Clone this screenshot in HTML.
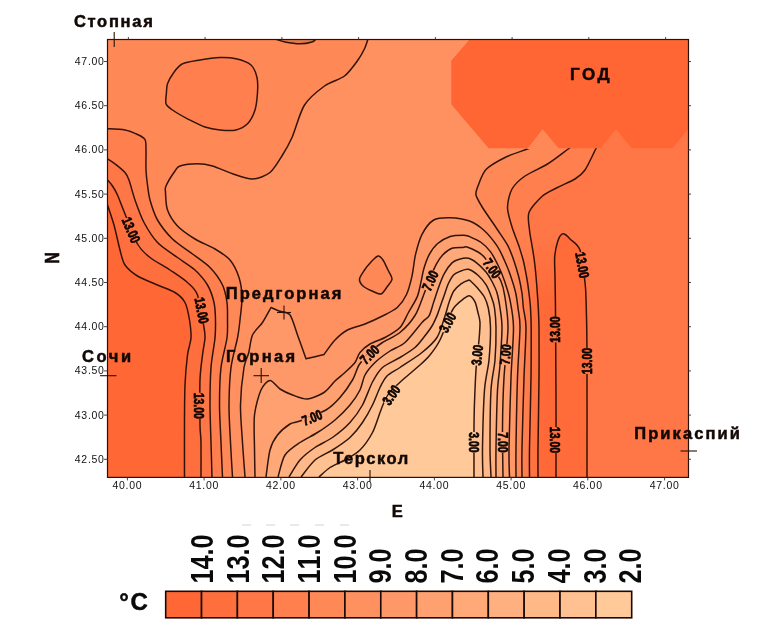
<!DOCTYPE html>
<html><head><meta charset="utf-8"><style>
html,body{margin:0;padding:0;background:#fff;}
body{width:768px;height:634px;overflow:hidden;font-family:"Liberation Sans",sans-serif;}
svg{display:block;will-change:transform;opacity:0.999}
.cl{font:bold 14px "Liberation Sans",sans-serif;fill:#0a0402;stroke:#0a0402;stroke-width:0.7px;font-kerning:none}
.tk{font:10.5px "Liberation Sans",sans-serif;fill:#111;letter-spacing:0.7px}
.lg{font:bold 31px "Liberation Sans",sans-serif;fill:#0a0a0a;font-kerning:none}
.st{font:bold 16.5px "Liberation Sans",sans-serif;fill:#120805;letter-spacing:1.6px;stroke:#120805;stroke-width:0.5px}
</style></head><body>
<svg width="768" height="634" viewBox="0 0 768 634">
<defs><linearGradient id="gH" x1="0" x2="1" y1="0" y2="0"><stop offset="0" stop-color="rgb(255,70,20)" stop-opacity="0"/><stop offset="0.55" stop-color="rgb(255,70,20)" stop-opacity="0.26"/><stop offset="1" stop-color="rgb(255,70,20)" stop-opacity="0.28"/></linearGradient>
<linearGradient id="gV" x1="0" x2="0" y1="0" y2="1"><stop offset="0" stop-color="#000"/><stop offset="0.25" stop-color="#fff"/><stop offset="1" stop-color="#fff"/></linearGradient>
<mask id="mV" maskUnits="userSpaceOnUse" x="500" y="236" width="70" height="254"><rect x="500" y="236" width="70" height="254" fill="url(#gV)"/></mask>
<clipPath id="cp"><rect x="107.5" y="39.5" width="581.0" height="437.9"/></clipPath></defs>
<rect width="768" height="634" fill="#fff"/>
<g clip-path="url(#cp)">
<rect x="107.5" y="39.5" width="581.0" height="437.9" fill="rgb(255,103,53)"/>
<path d="M107.5,205.0C108.4,207.8 112.2,218.7 114.0,225.0C115.8,231.3 118.5,244.4 120.0,250.0C121.5,255.6 122.5,261.4 125.0,265.0C127.5,268.6 132.9,273.2 137.5,276.0C142.1,278.8 152.2,282.7 157.5,285.0C162.8,287.3 171.2,290.1 175.0,292.5C178.8,294.9 183.0,298.6 185.0,302.5C187.0,306.4 188.7,315.0 189.5,320.0C190.3,325.0 191.3,333.1 191.0,338.0C190.7,342.9 188.3,348.4 187.5,355.0C186.7,361.6 185.4,375.9 185.0,385.0C184.6,394.1 184.6,407.1 184.5,420.0C184.4,432.9 184.5,469.0 184.5,477.0L693.5,482.4 L693.5,34.5 L102.5,34.5 Z" fill="rgb(255,111,61)"/>
<path d="M107.5,180.0C108.2,180.8 111.1,183.9 112.5,186.0C113.9,188.1 115.8,191.1 117.5,195.0C119.2,198.9 122.2,207.1 125.0,214.0C127.8,220.9 134.0,237.9 137.5,244.0C141.0,250.1 145.4,253.9 150.0,257.5C154.6,261.1 164.8,266.5 170.0,270.0C175.2,273.5 183.7,279.0 187.5,282.5C191.3,286.0 195.2,288.7 197.5,295.0C199.8,301.3 202.9,321.5 204.0,327.5C205.1,333.5 205.2,334.1 205.0,338.0C204.8,341.9 203.2,349.1 202.5,355.0C201.8,360.9 200.3,370.2 200.0,380.0C199.7,389.8 199.9,416.2 200.0,425.0C200.1,433.8 200.9,435.2 201.0,442.5C201.1,449.8 201.0,472.2 201.0,477.0L693.5,482.4 L693.5,34.5 L102.5,34.5 Z" fill="rgb(255,119,70)"/>
<path d="M107.5,158.8C108.5,159.4 112.5,161.8 115.0,163.8C117.5,165.7 123.0,170.2 125.0,172.5C127.0,174.8 127.6,176.2 129.0,180.0C130.4,183.8 132.9,194.1 135.0,200.0C137.1,205.9 140.8,216.6 144.0,222.5C147.2,228.4 152.8,237.6 157.5,242.5C162.2,247.4 172.2,253.7 177.5,257.5C182.8,261.4 190.8,266.1 195.0,270.0C199.2,273.9 204.8,280.4 207.5,285.0C210.2,289.6 212.9,297.6 214.0,302.5C215.1,307.4 215.4,315.0 215.5,320.0C215.6,325.0 215.6,331.4 215.0,338.0C214.4,344.6 211.7,358.1 211.0,367.5C210.3,376.9 210.0,394.5 210.0,405.0C210.0,415.5 210.7,432.4 211.0,442.5C211.3,452.6 211.9,472.2 212.0,477.0L693.5,482.4 L693.5,34.5 L102.5,34.5 Z" fill="rgb(255,128,78)"/>
<path d="M107.5,128.8C110.0,128.9 120.8,129.2 125.0,130.0C129.2,130.8 134.7,133.2 137.5,134.5C140.3,135.8 143.8,137.3 145.0,139.5C146.2,141.7 145.9,145.7 146.0,150.0C146.1,154.3 145.8,165.1 146.0,170.0C146.2,174.9 146.9,180.8 147.5,185.0C148.1,189.2 148.6,195.1 150.0,200.0C151.4,204.9 154.3,214.5 157.5,220.0C160.7,225.5 167.6,234.2 172.5,239.0C177.4,243.8 187.2,250.0 192.5,254.0C197.8,258.0 205.8,263.2 210.0,267.5C214.2,271.8 220.1,280.1 222.5,285.0C224.9,289.9 226.3,297.6 227.0,302.5C227.7,307.4 227.5,315.0 227.5,320.0C227.5,325.0 227.9,331.4 227.0,338.0C226.1,344.6 222.1,358.1 221.0,367.5C219.9,376.9 219.5,394.5 219.5,405.0C219.5,415.5 220.6,432.4 221.0,442.5C221.4,452.6 222.3,472.2 222.5,477.0L693.5,482.4 L693.5,34.5 L102.5,34.5 Z" fill="rgb(255,136,87)"/>
<path d="M368.0,39.0C367.5,40.4 365.9,45.8 364.5,48.8C363.1,51.7 360.8,56.2 358.0,60.0C355.2,63.8 349.2,72.4 344.5,76.0C339.8,79.6 330.1,81.9 324.5,86.0C318.9,90.1 309.1,97.8 304.5,105.0C299.9,112.2 295.1,130.5 292.0,137.5C288.9,144.5 285.6,150.1 282.5,155.0C279.4,159.9 274.2,169.1 270.0,172.5C265.8,175.9 257.8,178.8 252.5,179.0C247.2,179.2 238.1,175.6 232.5,173.8C226.9,171.9 217.4,167.4 212.5,166.0C207.6,164.6 202.1,163.8 197.5,163.8C192.9,163.8 183.2,165.0 180.0,166.0C176.8,167.0 177.0,168.2 175.0,171.0C173.0,173.8 167.3,183.0 166.0,186.0C164.7,189.0 165.3,189.1 165.5,192.5C165.7,195.9 165.8,205.3 167.5,210.0C169.2,214.7 173.7,221.9 177.5,226.0C181.3,230.1 189.8,235.8 195.0,239.0C200.2,242.2 210.1,246.1 215.0,249.0C219.9,251.9 226.6,256.0 230.0,260.0C233.4,264.0 237.3,272.2 239.0,277.5C240.7,282.8 241.9,291.6 242.0,297.5C242.1,303.4 240.6,314.3 240.0,320.0C239.4,325.7 238.8,331.4 237.5,338.0C236.2,344.6 232.2,358.1 231.0,367.5C229.8,376.9 229.1,394.5 229.0,405.0C228.9,415.5 230.0,432.4 230.5,442.5C231.0,452.6 232.2,472.2 232.5,477.0L693.5,482.4 L693.5,34.5 Z" fill="rgb(255,144,95)"/>
<path d="M182.5,63.8C186.2,62.0 194.8,60.9 200.0,60.0C205.2,59.1 215.0,57.7 220.0,57.5C225.0,57.3 231.7,57.7 236.0,58.8C240.3,59.8 248.1,62.4 251.0,65.0C253.9,67.6 256.1,73.7 257.0,77.5C257.9,81.3 257.8,88.0 257.5,92.5C257.2,97.0 256.4,105.6 255.0,110.0C253.6,114.4 250.2,121.0 247.5,123.8C244.8,126.5 239.8,129.1 236.0,130.0C232.2,130.9 224.3,130.4 220.0,130.0C215.7,129.6 209.6,128.6 205.0,127.0C200.4,125.4 192.1,121.1 187.5,118.8C182.9,116.4 175.5,112.1 172.5,110.0C169.5,107.9 166.8,106.3 166.0,103.8C165.2,101.2 166.3,94.8 166.5,92.0C166.7,89.2 166.5,86.5 167.5,83.8C168.5,81.0 171.7,75.3 173.8,72.5C175.8,69.7 178.8,65.5 182.5,63.8Z" fill="rgb(255,128,78)"/>
<path d="M275.0,39.0C276.4,39.4 281.5,41.3 285.0,42.0C288.5,42.7 296.2,43.8 300.0,43.8C303.8,43.8 309.8,42.7 312.0,42.0C314.2,41.3 315.4,39.4 316.0,39.0Z" fill="rgb(228,122,72)"/>
<path d="M378.0,256.0C379.7,255.7 381.6,258.0 383.0,260.0C384.4,262.0 386.7,267.3 388.0,270.0C389.3,272.7 392.1,276.6 392.0,279.0C391.9,281.4 388.5,284.9 387.0,287.0C385.5,289.1 383.1,293.4 381.0,294.0C378.9,294.6 374.5,292.1 372.0,291.0C369.5,289.9 364.8,287.7 363.0,286.0C361.2,284.3 359.3,281.2 359.5,279.0C359.7,276.8 362.9,272.4 364.5,270.0C366.1,267.6 369.1,264.0 371.0,262.0C372.9,260.0 376.3,256.3 378.0,256.0Z" fill="rgb(255,136,87)"/>
<path d="M245.0,477.0C244.7,472.2 243.1,452.6 242.5,442.5C241.9,432.4 240.3,415.5 240.5,405.0C240.7,394.5 242.8,374.9 244.0,367.5C245.2,360.1 247.6,357.1 248.8,352.5C249.9,347.9 250.6,339.2 252.5,335.0C254.4,330.8 259.9,326.4 262.5,322.5C265.1,318.6 269.8,309.6 271.0,307.5C272.1,308.0 276.3,309.9 279.0,311.0C281.7,312.1 287.4,311.6 290.0,315.0C292.6,318.4 295.3,328.9 297.5,335.0C299.7,341.1 304.8,355.4 306.0,358.8C308.5,358.2 321.5,355.1 324.0,354.5C325.5,352.5 331.7,343.4 335.0,340.0C338.3,336.6 343.3,332.2 347.5,330.0C351.7,327.8 360.1,326.0 365.0,324.0C369.9,322.0 378.0,318.3 382.5,316.0C387.0,313.7 394.0,310.5 397.3,307.5C400.6,304.5 404.4,299.1 406.4,294.8C408.4,290.5 410.6,282.2 411.9,276.6C413.2,271.0 414.1,260.6 415.5,254.7C416.9,248.8 419.4,239.5 421.9,234.6C424.4,229.7 429.7,222.4 433.7,220.0C437.7,217.6 445.2,217.6 450.2,217.7C455.2,217.8 464.8,219.3 469.5,221.0C474.2,222.7 479.8,226.6 483.6,230.0C487.4,233.4 493.9,241.3 496.9,245.6C499.9,249.9 502.7,256.6 504.7,261.0C506.7,265.4 509.5,272.6 511.0,277.0C512.5,281.4 514.6,288.2 515.6,292.5C516.6,296.8 517.4,303.1 518.0,308.0C518.6,312.9 520.1,317.8 520.0,327.5C519.9,337.2 518.1,360.6 517.5,377.5C516.9,394.4 516.2,434.1 516.0,448.0C515.8,461.9 516.0,472.9 516.0,477.0Z" fill="rgb(255,152,104)"/>
<path d="M255.0,477.0C254.9,472.9 254.6,456.7 254.5,448.0C254.4,439.3 253.6,423.1 254.5,415.0C255.4,406.9 258.8,394.8 261.0,390.0C263.2,385.2 267.3,380.6 270.0,380.5C272.7,380.4 276.9,387.0 280.0,389.0C283.1,391.0 288.6,393.6 292.5,395.0C296.4,396.4 303.1,399.4 307.5,399.0C311.9,398.6 320.1,395.0 324.0,392.5C327.9,390.0 332.1,383.8 335.0,381.0C337.9,378.2 342.2,375.1 345.0,372.5C347.8,369.9 352.9,365.3 355.0,362.5C357.1,359.7 357.9,355.1 360.0,352.5C362.1,349.9 366.5,346.1 370.0,344.0C373.5,341.9 380.8,339.8 385.0,337.5C389.2,335.2 396.8,330.9 400.0,327.5C403.2,324.1 405.8,317.3 408.2,313.0C410.6,308.7 415.5,300.9 417.3,296.6C419.1,292.3 420.1,285.8 421.0,282.0C421.9,278.2 422.6,273.1 423.7,269.3C424.8,265.5 427.3,258.3 429.2,254.7C431.1,251.1 434.5,246.2 437.4,243.7C440.3,241.2 446.6,237.7 450.2,236.5C453.8,235.3 460.4,235.2 463.0,235.2C465.6,235.2 466.2,235.2 468.8,236.2C471.3,237.3 478.2,240.3 481.2,242.5C484.3,244.7 488.2,248.6 490.6,251.9C493.0,255.2 496.4,261.9 498.4,266.0C500.4,270.1 503.1,276.7 504.7,281.5C506.3,286.3 508.8,293.6 510.0,300.0C511.2,306.4 513.4,316.6 513.5,327.5C513.6,338.4 511.6,360.6 511.0,377.5C510.4,394.4 509.2,434.1 509.0,448.0C508.8,461.9 509.4,472.9 509.5,477.0Z" fill="rgb(255,160,112)"/>
<path d="M266.0,477.0C266.6,473.2 268.4,455.9 270.0,450.0C271.6,444.1 274.7,438.6 277.5,435.0C280.3,431.4 286.9,426.0 290.0,424.0C293.1,422.0 295.0,423.0 300.0,421.0C305.0,419.0 320.4,413.3 326.0,410.0C331.6,406.7 336.3,401.7 340.0,397.5C343.7,393.3 349.8,384.6 352.5,380.0C355.2,375.4 356.6,368.9 359.0,365.0C361.4,361.1 366.7,355.1 370.0,352.0C373.3,348.9 378.3,345.2 382.5,342.5C386.7,339.8 395.4,336.3 400.0,332.5C404.6,328.7 411.6,320.9 415.0,315.5C418.4,310.1 421.9,299.2 424.0,294.0C426.1,288.8 428.2,282.2 430.0,278.0C431.8,273.8 434.7,267.1 436.5,263.8C438.3,260.5 440.7,256.9 442.9,254.7C445.1,252.5 449.2,249.3 452.0,248.3C454.8,247.3 460.9,247.6 463.0,247.4C465.1,247.2 464.9,246.4 467.0,247.0C469.1,247.6 475.6,250.6 478.0,252.0C480.4,253.4 482.3,254.9 484.4,257.3C486.5,259.7 490.7,265.7 493.0,269.0C495.3,272.3 499.2,277.1 500.8,280.8C502.4,284.5 503.7,289.1 504.7,295.6C505.7,302.1 508.1,316.0 508.0,327.5C507.9,339.0 504.8,363.5 504.0,377.5C503.2,391.5 502.6,413.6 502.5,427.5C502.4,441.4 502.9,470.1 503.0,477.0Z" fill="rgb(255,168,120)"/>
<path d="M278.0,477.0C279.0,473.9 281.9,459.8 285.0,455.0C288.1,450.2 295.4,445.6 300.0,442.5C304.6,439.4 312.6,435.6 317.5,432.5C322.4,429.4 330.4,423.9 335.0,420.0C339.6,416.1 346.5,409.2 350.0,405.0C353.5,400.8 357.9,394.2 360.0,390.0C362.1,385.8 362.9,378.9 365.0,375.0C367.1,371.1 371.5,365.9 375.0,362.5C378.5,359.1 385.8,353.8 390.0,351.0C394.2,348.2 400.5,346.5 405.0,342.5C409.5,338.5 418.6,326.3 422.0,322.5C425.4,318.7 427.6,318.5 429.2,315.6C430.8,312.7 432.3,306.2 433.7,302.0C435.1,297.8 437.7,289.8 439.2,285.7C440.7,281.6 442.9,276.1 444.7,272.9C446.5,269.7 450.0,264.8 452.0,262.9C454.0,261.0 457.0,259.8 459.3,259.2C461.6,258.6 466.0,257.8 468.4,258.3C470.8,258.8 474.1,260.9 476.6,262.8C479.1,264.7 483.8,269.4 486.0,272.0C488.2,274.6 490.5,278.6 492.0,281.5C493.5,284.4 495.8,288.8 496.9,292.5C498.0,296.2 499.3,303.1 500.0,308.0C500.7,312.9 502.0,319.5 502.0,327.5C502.0,335.5 500.6,356.2 500.0,365.0C499.4,373.8 498.1,378.4 497.5,390.0C496.9,401.6 496.2,435.8 496.0,448.0C495.8,460.2 496.0,472.9 496.0,477.0Z" fill="rgb(255,176,129)"/>
<path d="M289.0,477.0C290.5,474.6 296.4,464.1 300.0,460.0C303.6,455.9 310.4,450.6 315.0,447.5C319.6,444.4 327.6,441.0 332.5,437.5C337.4,434.0 345.8,427.1 350.0,422.5C354.2,417.9 359.4,410.7 362.5,405.0C365.6,399.3 369.7,387.2 372.5,382.0C375.3,376.8 378.6,370.9 382.5,367.5C386.4,364.1 395.4,360.3 400.0,357.5C404.6,354.7 411.6,350.4 415.0,347.5C418.4,344.6 421.6,340.0 424.0,337.0C426.4,334.0 430.2,329.0 432.0,326.0C433.8,323.0 436.0,317.9 437.0,315.6C438.0,313.3 438.2,312.1 439.2,309.4C440.2,306.7 442.5,300.2 443.8,296.6C445.1,293.0 446.9,286.9 448.3,283.8C449.7,280.7 452.0,276.5 453.8,274.7C455.6,272.9 459.0,271.8 461.0,271.0C463.0,270.2 466.0,268.7 468.4,269.3C470.8,269.9 475.5,273.1 478.0,275.3C480.5,277.5 484.1,281.7 486.0,284.7C487.9,287.7 490.2,293.7 491.4,297.0C492.6,300.3 493.9,303.7 494.5,308.0C495.1,312.3 495.9,320.2 496.0,327.5C496.1,334.8 495.7,351.2 495.0,360.0C494.3,368.8 491.7,377.7 491.0,390.0C490.3,402.3 490.0,435.8 490.0,448.0C490.0,460.2 490.9,472.9 491.0,477.0Z" fill="rgb(255,185,137)"/>
<path d="M301.0,477.0C303.0,474.6 310.6,463.8 315.0,460.0C319.4,456.2 327.6,453.1 332.5,450.0C337.4,446.9 345.8,441.4 350.0,437.5C354.2,433.6 359.4,427.1 362.5,422.5C365.6,417.9 370.1,409.9 372.5,405.0C374.9,400.1 378.0,391.6 380.0,387.5C382.0,383.4 384.2,378.8 387.0,376.0C389.8,373.2 395.1,370.8 400.0,367.5C404.9,364.2 416.8,356.7 422.0,352.5C427.2,348.3 433.8,342.5 437.0,337.5C440.2,332.5 443.0,322.0 444.7,317.0C446.4,312.0 447.9,305.6 449.2,302.0C450.5,298.4 452.1,293.5 453.8,291.0C455.5,288.5 459.0,285.3 461.0,283.8C463.0,282.3 467.1,280.6 468.4,280.2C469.7,279.8 469.0,279.6 470.3,280.8C471.6,282.0 476.0,286.3 478.0,288.6C480.0,290.9 483.0,294.3 484.4,297.0C485.8,299.7 487.4,303.7 488.3,308.0C489.2,312.3 490.4,320.2 490.5,327.5C490.6,334.8 489.8,351.2 489.0,360.0C488.2,368.8 485.4,377.7 484.5,390.0C483.6,402.3 482.7,435.8 482.5,448.0C482.3,460.2 482.9,472.9 483.0,477.0Z" fill="rgb(255,193,146)"/>
<path d="M319.0,477.0C320.5,475.7 326.4,469.9 330.0,467.5C333.6,465.1 340.8,462.4 345.0,460.0C349.2,457.6 356.1,453.9 360.0,450.0C363.9,446.1 369.7,437.8 372.5,432.5C375.3,427.2 378.4,416.7 380.0,412.5C381.6,408.3 382.6,405.4 384.0,402.5C385.4,399.6 387.4,395.1 390.0,392.0C392.6,388.9 398.3,383.8 402.5,380.0C406.7,376.2 416.1,368.5 420.0,365.0C423.9,361.5 427.2,358.5 430.0,355.0C432.8,351.5 437.1,345.9 440.0,340.0C442.9,334.1 448.8,317.8 451.0,313.0C453.2,308.2 453.9,307.6 455.6,305.7C457.3,303.8 461.0,300.7 462.9,299.3C464.8,297.9 467.6,295.3 469.3,295.7C471.0,296.1 473.8,299.5 475.0,301.9C476.2,304.3 477.3,309.9 478.0,312.8C478.7,315.7 479.9,318.7 480.0,322.5C480.1,326.3 479.6,333.4 479.0,340.0C478.4,346.6 476.6,361.2 476.0,370.0C475.4,378.8 474.8,394.4 474.5,402.5C474.2,410.6 474.1,417.1 474.0,427.5C473.9,437.9 474.0,470.1 474.0,477.0Z" fill="rgb(255,201,154)"/>
<path d="M545.0,142.4C542.5,143.3 533.1,146.9 527.5,149.0C521.9,151.1 510.8,154.6 505.0,157.5C499.2,160.4 489.8,165.5 486.0,169.5C482.2,173.5 479.4,182.4 478.0,186.0C476.6,189.6 475.4,192.0 476.0,195.0C476.6,198.0 479.6,202.7 482.5,207.5C485.4,212.3 493.5,223.7 497.0,229.0C500.5,234.3 505.4,241.1 507.8,245.6C510.2,250.1 512.5,256.6 514.0,261.0C515.5,265.4 517.6,272.6 518.8,277.0C519.9,281.4 521.2,288.2 521.9,292.5C522.6,296.8 522.8,303.1 523.4,308.0C524.0,312.9 525.9,317.8 526.0,327.5C526.1,337.2 524.6,360.6 524.0,377.5C523.4,394.4 522.3,434.1 522.0,448.0C521.7,461.9 522.0,472.9 522.0,477.0L693.5,482.4 L693.5,34.5 L545.0,34.5 Z" fill="rgb(255,136,87)"/>
<path d="M580.0,140.4C578.2,141.7 572.0,146.2 567.5,149.5C563.0,152.8 553.5,160.3 547.5,164.0C541.5,167.7 530.0,172.5 525.0,176.0C520.0,179.5 514.5,184.6 512.0,189.0C509.6,193.4 507.5,202.2 507.5,207.5C507.5,212.8 510.4,221.7 512.0,227.0C513.6,232.3 517.2,240.8 518.8,245.6C520.3,250.4 522.3,256.6 523.4,261.0C524.5,265.4 525.8,272.6 526.6,277.0C527.4,281.4 528.4,288.2 528.9,292.5C529.4,296.8 530.2,302.9 530.5,308.0C530.8,313.1 531.2,319.0 531.2,328.8C531.3,338.5 531.2,360.8 531.0,377.5C530.8,394.2 529.7,434.1 529.5,448.0C529.3,461.9 529.5,472.9 529.5,477.0L693.5,482.4 L693.5,34.5 L580.0,34.5 Z" fill="rgb(255,128,78)"/>
<path d="M600.4,140.0C599.7,141.3 597.7,145.3 595.5,149.5C593.3,153.7 587.9,165.9 585.0,170.0C582.1,174.1 578.9,176.6 575.0,179.0C571.1,181.4 562.0,185.1 557.5,187.5C553.0,189.9 546.5,192.5 542.5,196.0C538.5,199.5 530.8,207.7 529.0,212.5C527.2,217.3 529.1,225.4 529.5,230.0C529.9,234.6 531.3,241.3 532.0,245.6C532.7,249.9 533.7,255.5 534.4,261.0C535.1,266.5 536.2,278.1 536.7,284.7C537.2,291.3 538.0,301.8 538.3,308.0C538.6,314.2 538.9,319.0 539.0,328.8C539.1,338.5 539.1,360.8 539.0,377.5C538.9,394.2 538.1,434.1 538.0,448.0C537.9,461.9 538.0,472.9 538.0,477.0L693.5,482.4 L693.5,34.5 L600.4,34.5 Z" fill="rgb(255,119,70)"/>
<path d="M556.0,477.0C556.0,466.2 556.1,423.0 556.0,400.0C555.9,377.0 555.6,330.0 555.5,312.8C555.4,295.6 555.1,284.9 555.0,277.0C554.9,269.1 554.3,261.5 554.7,256.5C555.1,251.5 556.8,244.2 557.8,241.0C558.8,237.8 560.9,234.8 562.0,234.0C563.1,233.2 564.9,234.3 566.0,235.0C567.1,235.7 568.0,236.9 570.0,239.0C572.0,241.1 577.9,243.9 580.0,250.0C582.1,256.1 584.2,275.8 585.0,282.5C585.8,289.2 585.7,288.6 586.0,298.0C586.3,307.4 586.9,324.9 587.0,350.0C587.1,375.1 587.0,459.2 587.0,477.0Z" fill="rgb(255,107,57)"/>
<g mask="url(#mV)"><rect x="512" y="236" width="43.5" height="254" fill="url(#gH)"/></g>
<g fill="none" stroke="#260e06" stroke-width="1.5" stroke-linejoin="round" stroke-opacity="0.95">
<path d="M107.5,205.0C108.4,207.8 112.2,218.7 114.0,225.0C115.8,231.3 118.5,244.4 120.0,250.0C121.5,255.6 122.5,261.4 125.0,265.0C127.5,268.6 132.9,273.2 137.5,276.0C142.1,278.8 152.2,282.7 157.5,285.0C162.8,287.3 171.2,290.1 175.0,292.5C178.8,294.9 183.0,298.6 185.0,302.5C187.0,306.4 188.7,315.0 189.5,320.0C190.3,325.0 191.3,333.1 191.0,338.0C190.7,342.9 188.3,348.4 187.5,355.0C186.7,361.6 185.4,375.9 185.0,385.0C184.6,394.1 184.6,407.1 184.5,420.0C184.4,432.9 184.5,469.0 184.5,477.0"/>
<path d="M107.5,180.0C108.2,180.8 111.1,183.9 112.5,186.0C113.9,188.1 115.8,191.1 117.5,195.0C119.2,198.9 122.2,207.1 125.0,214.0C127.8,220.9 134.0,237.9 137.5,244.0C141.0,250.1 145.4,253.9 150.0,257.5C154.6,261.1 164.8,266.5 170.0,270.0C175.2,273.5 183.7,279.0 187.5,282.5C191.3,286.0 195.2,288.7 197.5,295.0C199.8,301.3 202.9,321.5 204.0,327.5C205.1,333.5 205.2,334.1 205.0,338.0C204.8,341.9 203.2,349.1 202.5,355.0C201.8,360.9 200.3,370.2 200.0,380.0C199.7,389.8 199.9,416.2 200.0,425.0C200.1,433.8 200.9,435.2 201.0,442.5C201.1,449.8 201.0,472.2 201.0,477.0"/>
<path d="M107.5,158.8C108.5,159.4 112.5,161.8 115.0,163.8C117.5,165.7 123.0,170.2 125.0,172.5C127.0,174.8 127.6,176.2 129.0,180.0C130.4,183.8 132.9,194.1 135.0,200.0C137.1,205.9 140.8,216.6 144.0,222.5C147.2,228.4 152.8,237.6 157.5,242.5C162.2,247.4 172.2,253.7 177.5,257.5C182.8,261.4 190.8,266.1 195.0,270.0C199.2,273.9 204.8,280.4 207.5,285.0C210.2,289.6 212.9,297.6 214.0,302.5C215.1,307.4 215.4,315.0 215.5,320.0C215.6,325.0 215.6,331.4 215.0,338.0C214.4,344.6 211.7,358.1 211.0,367.5C210.3,376.9 210.0,394.5 210.0,405.0C210.0,415.5 210.7,432.4 211.0,442.5C211.3,452.6 211.9,472.2 212.0,477.0"/>
<path d="M107.5,128.8C110.0,128.9 120.8,129.2 125.0,130.0C129.2,130.8 134.7,133.2 137.5,134.5C140.3,135.8 143.8,137.3 145.0,139.5C146.2,141.7 145.9,145.7 146.0,150.0C146.1,154.3 145.8,165.1 146.0,170.0C146.2,174.9 146.9,180.8 147.5,185.0C148.1,189.2 148.6,195.1 150.0,200.0C151.4,204.9 154.3,214.5 157.5,220.0C160.7,225.5 167.6,234.2 172.5,239.0C177.4,243.8 187.2,250.0 192.5,254.0C197.8,258.0 205.8,263.2 210.0,267.5C214.2,271.8 220.1,280.1 222.5,285.0C224.9,289.9 226.3,297.6 227.0,302.5C227.7,307.4 227.5,315.0 227.5,320.0C227.5,325.0 227.9,331.4 227.0,338.0C226.1,344.6 222.1,358.1 221.0,367.5C219.9,376.9 219.5,394.5 219.5,405.0C219.5,415.5 220.6,432.4 221.0,442.5C221.4,452.6 222.3,472.2 222.5,477.0"/>
<path d="M368.0,39.0C367.5,40.4 365.9,45.8 364.5,48.8C363.1,51.7 360.8,56.2 358.0,60.0C355.2,63.8 349.2,72.4 344.5,76.0C339.8,79.6 330.1,81.9 324.5,86.0C318.9,90.1 309.1,97.8 304.5,105.0C299.9,112.2 295.1,130.5 292.0,137.5C288.9,144.5 285.6,150.1 282.5,155.0C279.4,159.9 274.2,169.1 270.0,172.5C265.8,175.9 257.8,178.8 252.5,179.0C247.2,179.2 238.1,175.6 232.5,173.8C226.9,171.9 217.4,167.4 212.5,166.0C207.6,164.6 202.1,163.8 197.5,163.8C192.9,163.8 183.2,165.0 180.0,166.0C176.8,167.0 177.0,168.2 175.0,171.0C173.0,173.8 167.3,183.0 166.0,186.0C164.7,189.0 165.3,189.1 165.5,192.5C165.7,195.9 165.8,205.3 167.5,210.0C169.2,214.7 173.7,221.9 177.5,226.0C181.3,230.1 189.8,235.8 195.0,239.0C200.2,242.2 210.1,246.1 215.0,249.0C219.9,251.9 226.6,256.0 230.0,260.0C233.4,264.0 237.3,272.2 239.0,277.5C240.7,282.8 241.9,291.6 242.0,297.5C242.1,303.4 240.6,314.3 240.0,320.0C239.4,325.7 238.8,331.4 237.5,338.0C236.2,344.6 232.2,358.1 231.0,367.5C229.8,376.9 229.1,394.5 229.0,405.0C228.9,415.5 230.0,432.4 230.5,442.5C231.0,452.6 232.2,472.2 232.5,477.0"/>
<path d="M182.5,63.8C186.2,62.0 194.8,60.9 200.0,60.0C205.2,59.1 215.0,57.7 220.0,57.5C225.0,57.3 231.7,57.7 236.0,58.8C240.3,59.8 248.1,62.4 251.0,65.0C253.9,67.6 256.1,73.7 257.0,77.5C257.9,81.3 257.8,88.0 257.5,92.5C257.2,97.0 256.4,105.6 255.0,110.0C253.6,114.4 250.2,121.0 247.5,123.8C244.8,126.5 239.8,129.1 236.0,130.0C232.2,130.9 224.3,130.4 220.0,130.0C215.7,129.6 209.6,128.6 205.0,127.0C200.4,125.4 192.1,121.1 187.5,118.8C182.9,116.4 175.5,112.1 172.5,110.0C169.5,107.9 166.8,106.3 166.0,103.8C165.2,101.2 166.3,94.8 166.5,92.0C166.7,89.2 166.5,86.5 167.5,83.8C168.5,81.0 171.7,75.3 173.8,72.5C175.8,69.7 178.8,65.5 182.5,63.8Z"/>
<path d="M275.0,39.0C276.4,39.4 281.5,41.3 285.0,42.0C288.5,42.7 296.2,43.8 300.0,43.8C303.8,43.8 309.8,42.7 312.0,42.0C314.2,41.3 315.4,39.4 316.0,39.0"/>
<path d="M378.0,256.0C379.7,255.7 381.6,258.0 383.0,260.0C384.4,262.0 386.7,267.3 388.0,270.0C389.3,272.7 392.1,276.6 392.0,279.0C391.9,281.4 388.5,284.9 387.0,287.0C385.5,289.1 383.1,293.4 381.0,294.0C378.9,294.6 374.5,292.1 372.0,291.0C369.5,289.9 364.8,287.7 363.0,286.0C361.2,284.3 359.3,281.2 359.5,279.0C359.7,276.8 362.9,272.4 364.5,270.0C366.1,267.6 369.1,264.0 371.0,262.0C372.9,260.0 376.3,256.3 378.0,256.0Z"/>
<path d="M245.0,477.0C244.7,472.2 243.1,452.6 242.5,442.5C241.9,432.4 240.3,415.5 240.5,405.0C240.7,394.5 242.8,374.9 244.0,367.5C245.2,360.1 247.6,357.1 248.8,352.5C249.9,347.9 250.6,339.2 252.5,335.0C254.4,330.8 259.9,326.4 262.5,322.5C265.1,318.6 269.8,309.6 271.0,307.5C272.1,308.0 276.3,309.9 279.0,311.0C281.7,312.1 287.4,311.6 290.0,315.0C292.6,318.4 295.3,328.9 297.5,335.0C299.7,341.1 304.8,355.4 306.0,358.8C308.5,358.2 321.5,355.1 324.0,354.5C325.5,352.5 331.7,343.4 335.0,340.0C338.3,336.6 343.3,332.2 347.5,330.0C351.7,327.8 360.1,326.0 365.0,324.0C369.9,322.0 378.0,318.3 382.5,316.0C387.0,313.7 394.0,310.5 397.3,307.5C400.6,304.5 404.4,299.1 406.4,294.8C408.4,290.5 410.6,282.2 411.9,276.6C413.2,271.0 414.1,260.6 415.5,254.7C416.9,248.8 419.4,239.5 421.9,234.6C424.4,229.7 429.7,222.4 433.7,220.0C437.7,217.6 445.2,217.6 450.2,217.7C455.2,217.8 464.8,219.3 469.5,221.0C474.2,222.7 479.8,226.6 483.6,230.0C487.4,233.4 493.9,241.3 496.9,245.6C499.9,249.9 502.7,256.6 504.7,261.0C506.7,265.4 509.5,272.6 511.0,277.0C512.5,281.4 514.6,288.2 515.6,292.5C516.6,296.8 517.4,303.1 518.0,308.0C518.6,312.9 520.1,317.8 520.0,327.5C519.9,337.2 518.1,360.6 517.5,377.5C516.9,394.4 516.2,434.1 516.0,448.0C515.8,461.9 516.0,472.9 516.0,477.0"/>
<path d="M255.0,477.0C254.9,472.9 254.6,456.7 254.5,448.0C254.4,439.3 253.6,423.1 254.5,415.0C255.4,406.9 258.8,394.8 261.0,390.0C263.2,385.2 267.3,380.6 270.0,380.5C272.7,380.4 276.9,387.0 280.0,389.0C283.1,391.0 288.6,393.6 292.5,395.0C296.4,396.4 303.1,399.4 307.5,399.0C311.9,398.6 320.1,395.0 324.0,392.5C327.9,390.0 332.1,383.8 335.0,381.0C337.9,378.2 342.2,375.1 345.0,372.5C347.8,369.9 352.9,365.3 355.0,362.5C357.1,359.7 357.9,355.1 360.0,352.5C362.1,349.9 366.5,346.1 370.0,344.0C373.5,341.9 380.8,339.8 385.0,337.5C389.2,335.2 396.8,330.9 400.0,327.5C403.2,324.1 405.8,317.3 408.2,313.0C410.6,308.7 415.5,300.9 417.3,296.6C419.1,292.3 420.1,285.8 421.0,282.0C421.9,278.2 422.6,273.1 423.7,269.3C424.8,265.5 427.3,258.3 429.2,254.7C431.1,251.1 434.5,246.2 437.4,243.7C440.3,241.2 446.6,237.7 450.2,236.5C453.8,235.3 460.4,235.2 463.0,235.2C465.6,235.2 466.2,235.2 468.8,236.2C471.3,237.3 478.2,240.3 481.2,242.5C484.3,244.7 488.2,248.6 490.6,251.9C493.0,255.2 496.4,261.9 498.4,266.0C500.4,270.1 503.1,276.7 504.7,281.5C506.3,286.3 508.8,293.6 510.0,300.0C511.2,306.4 513.4,316.6 513.5,327.5C513.6,338.4 511.6,360.6 511.0,377.5C510.4,394.4 509.2,434.1 509.0,448.0C508.8,461.9 509.4,472.9 509.5,477.0"/>
<path d="M266.0,477.0C266.6,473.2 268.4,455.9 270.0,450.0C271.6,444.1 274.7,438.6 277.5,435.0C280.3,431.4 286.9,426.0 290.0,424.0C293.1,422.0 295.0,423.0 300.0,421.0C305.0,419.0 320.4,413.3 326.0,410.0C331.6,406.7 336.3,401.7 340.0,397.5C343.7,393.3 349.8,384.6 352.5,380.0C355.2,375.4 356.6,368.9 359.0,365.0C361.4,361.1 366.7,355.1 370.0,352.0C373.3,348.9 378.3,345.2 382.5,342.5C386.7,339.8 395.4,336.3 400.0,332.5C404.6,328.7 411.6,320.9 415.0,315.5C418.4,310.1 421.9,299.2 424.0,294.0C426.1,288.8 428.2,282.2 430.0,278.0C431.8,273.8 434.7,267.1 436.5,263.8C438.3,260.5 440.7,256.9 442.9,254.7C445.1,252.5 449.2,249.3 452.0,248.3C454.8,247.3 460.9,247.6 463.0,247.4C465.1,247.2 464.9,246.4 467.0,247.0C469.1,247.6 475.6,250.6 478.0,252.0C480.4,253.4 482.3,254.9 484.4,257.3C486.5,259.7 490.7,265.7 493.0,269.0C495.3,272.3 499.2,277.1 500.8,280.8C502.4,284.5 503.7,289.1 504.7,295.6C505.7,302.1 508.1,316.0 508.0,327.5C507.9,339.0 504.8,363.5 504.0,377.5C503.2,391.5 502.6,413.6 502.5,427.5C502.4,441.4 502.9,470.1 503.0,477.0"/>
<path d="M278.0,477.0C279.0,473.9 281.9,459.8 285.0,455.0C288.1,450.2 295.4,445.6 300.0,442.5C304.6,439.4 312.6,435.6 317.5,432.5C322.4,429.4 330.4,423.9 335.0,420.0C339.6,416.1 346.5,409.2 350.0,405.0C353.5,400.8 357.9,394.2 360.0,390.0C362.1,385.8 362.9,378.9 365.0,375.0C367.1,371.1 371.5,365.9 375.0,362.5C378.5,359.1 385.8,353.8 390.0,351.0C394.2,348.2 400.5,346.5 405.0,342.5C409.5,338.5 418.6,326.3 422.0,322.5C425.4,318.7 427.6,318.5 429.2,315.6C430.8,312.7 432.3,306.2 433.7,302.0C435.1,297.8 437.7,289.8 439.2,285.7C440.7,281.6 442.9,276.1 444.7,272.9C446.5,269.7 450.0,264.8 452.0,262.9C454.0,261.0 457.0,259.8 459.3,259.2C461.6,258.6 466.0,257.8 468.4,258.3C470.8,258.8 474.1,260.9 476.6,262.8C479.1,264.7 483.8,269.4 486.0,272.0C488.2,274.6 490.5,278.6 492.0,281.5C493.5,284.4 495.8,288.8 496.9,292.5C498.0,296.2 499.3,303.1 500.0,308.0C500.7,312.9 502.0,319.5 502.0,327.5C502.0,335.5 500.6,356.2 500.0,365.0C499.4,373.8 498.1,378.4 497.5,390.0C496.9,401.6 496.2,435.8 496.0,448.0C495.8,460.2 496.0,472.9 496.0,477.0"/>
<path d="M289.0,477.0C290.5,474.6 296.4,464.1 300.0,460.0C303.6,455.9 310.4,450.6 315.0,447.5C319.6,444.4 327.6,441.0 332.5,437.5C337.4,434.0 345.8,427.1 350.0,422.5C354.2,417.9 359.4,410.7 362.5,405.0C365.6,399.3 369.7,387.2 372.5,382.0C375.3,376.8 378.6,370.9 382.5,367.5C386.4,364.1 395.4,360.3 400.0,357.5C404.6,354.7 411.6,350.4 415.0,347.5C418.4,344.6 421.6,340.0 424.0,337.0C426.4,334.0 430.2,329.0 432.0,326.0C433.8,323.0 436.0,317.9 437.0,315.6C438.0,313.3 438.2,312.1 439.2,309.4C440.2,306.7 442.5,300.2 443.8,296.6C445.1,293.0 446.9,286.9 448.3,283.8C449.7,280.7 452.0,276.5 453.8,274.7C455.6,272.9 459.0,271.8 461.0,271.0C463.0,270.2 466.0,268.7 468.4,269.3C470.8,269.9 475.5,273.1 478.0,275.3C480.5,277.5 484.1,281.7 486.0,284.7C487.9,287.7 490.2,293.7 491.4,297.0C492.6,300.3 493.9,303.7 494.5,308.0C495.1,312.3 495.9,320.2 496.0,327.5C496.1,334.8 495.7,351.2 495.0,360.0C494.3,368.8 491.7,377.7 491.0,390.0C490.3,402.3 490.0,435.8 490.0,448.0C490.0,460.2 490.9,472.9 491.0,477.0"/>
<path d="M301.0,477.0C303.0,474.6 310.6,463.8 315.0,460.0C319.4,456.2 327.6,453.1 332.5,450.0C337.4,446.9 345.8,441.4 350.0,437.5C354.2,433.6 359.4,427.1 362.5,422.5C365.6,417.9 370.1,409.9 372.5,405.0C374.9,400.1 378.0,391.6 380.0,387.5C382.0,383.4 384.2,378.8 387.0,376.0C389.8,373.2 395.1,370.8 400.0,367.5C404.9,364.2 416.8,356.7 422.0,352.5C427.2,348.3 433.8,342.5 437.0,337.5C440.2,332.5 443.0,322.0 444.7,317.0C446.4,312.0 447.9,305.6 449.2,302.0C450.5,298.4 452.1,293.5 453.8,291.0C455.5,288.5 459.0,285.3 461.0,283.8C463.0,282.3 467.1,280.6 468.4,280.2C469.7,279.8 469.0,279.6 470.3,280.8C471.6,282.0 476.0,286.3 478.0,288.6C480.0,290.9 483.0,294.3 484.4,297.0C485.8,299.7 487.4,303.7 488.3,308.0C489.2,312.3 490.4,320.2 490.5,327.5C490.6,334.8 489.8,351.2 489.0,360.0C488.2,368.8 485.4,377.7 484.5,390.0C483.6,402.3 482.7,435.8 482.5,448.0C482.3,460.2 482.9,472.9 483.0,477.0"/>
<path d="M319.0,477.0C320.5,475.7 326.4,469.9 330.0,467.5C333.6,465.1 340.8,462.4 345.0,460.0C349.2,457.6 356.1,453.9 360.0,450.0C363.9,446.1 369.7,437.8 372.5,432.5C375.3,427.2 378.4,416.7 380.0,412.5C381.6,408.3 382.6,405.4 384.0,402.5C385.4,399.6 387.4,395.1 390.0,392.0C392.6,388.9 398.3,383.8 402.5,380.0C406.7,376.2 416.1,368.5 420.0,365.0C423.9,361.5 427.2,358.5 430.0,355.0C432.8,351.5 437.1,345.9 440.0,340.0C442.9,334.1 448.8,317.8 451.0,313.0C453.2,308.2 453.9,307.6 455.6,305.7C457.3,303.8 461.0,300.7 462.9,299.3C464.8,297.9 467.6,295.3 469.3,295.7C471.0,296.1 473.8,299.5 475.0,301.9C476.2,304.3 477.3,309.9 478.0,312.8C478.7,315.7 479.9,318.7 480.0,322.5C480.1,326.3 479.6,333.4 479.0,340.0C478.4,346.6 476.6,361.2 476.0,370.0C475.4,378.8 474.8,394.4 474.5,402.5C474.2,410.6 474.1,417.1 474.0,427.5C473.9,437.9 474.0,470.1 474.0,477.0"/>
<path d="M545.0,142.4C542.5,143.3 533.1,146.9 527.5,149.0C521.9,151.1 510.8,154.6 505.0,157.5C499.2,160.4 489.8,165.5 486.0,169.5C482.2,173.5 479.4,182.4 478.0,186.0C476.6,189.6 475.4,192.0 476.0,195.0C476.6,198.0 479.6,202.7 482.5,207.5C485.4,212.3 493.5,223.7 497.0,229.0C500.5,234.3 505.4,241.1 507.8,245.6C510.2,250.1 512.5,256.6 514.0,261.0C515.5,265.4 517.6,272.6 518.8,277.0C519.9,281.4 521.2,288.2 521.9,292.5C522.6,296.8 522.8,303.1 523.4,308.0C524.0,312.9 525.9,317.8 526.0,327.5C526.1,337.2 524.6,360.6 524.0,377.5C523.4,394.4 522.3,434.1 522.0,448.0C521.7,461.9 522.0,472.9 522.0,477.0"/>
<path d="M580.0,140.4C578.2,141.7 572.0,146.2 567.5,149.5C563.0,152.8 553.5,160.3 547.5,164.0C541.5,167.7 530.0,172.5 525.0,176.0C520.0,179.5 514.5,184.6 512.0,189.0C509.6,193.4 507.5,202.2 507.5,207.5C507.5,212.8 510.4,221.7 512.0,227.0C513.6,232.3 517.2,240.8 518.8,245.6C520.3,250.4 522.3,256.6 523.4,261.0C524.5,265.4 525.8,272.6 526.6,277.0C527.4,281.4 528.4,288.2 528.9,292.5C529.4,296.8 530.2,302.9 530.5,308.0C530.8,313.1 531.2,319.0 531.2,328.8C531.3,338.5 531.2,360.8 531.0,377.5C530.8,394.2 529.7,434.1 529.5,448.0C529.3,461.9 529.5,472.9 529.5,477.0"/>
<path d="M600.4,140.0C599.7,141.3 597.7,145.3 595.5,149.5C593.3,153.7 587.9,165.9 585.0,170.0C582.1,174.1 578.9,176.6 575.0,179.0C571.1,181.4 562.0,185.1 557.5,187.5C553.0,189.9 546.5,192.5 542.5,196.0C538.5,199.5 530.8,207.7 529.0,212.5C527.2,217.3 529.1,225.4 529.5,230.0C529.9,234.6 531.3,241.3 532.0,245.6C532.7,249.9 533.7,255.5 534.4,261.0C535.1,266.5 536.2,278.1 536.7,284.7C537.2,291.3 538.0,301.8 538.3,308.0C538.6,314.2 538.9,319.0 539.0,328.8C539.1,338.5 539.1,360.8 539.0,377.5C538.9,394.2 538.1,434.1 538.0,448.0C537.9,461.9 538.0,472.9 538.0,477.0"/>
<path d="M556.0,477.0C556.0,466.2 556.1,423.0 556.0,400.0C555.9,377.0 555.6,330.0 555.5,312.8C555.4,295.6 555.1,284.9 555.0,277.0C554.9,269.1 554.3,261.5 554.7,256.5C555.1,251.5 556.8,244.2 557.8,241.0C558.8,237.8 560.9,234.8 562.0,234.0C563.1,233.2 564.9,234.3 566.0,235.0C567.1,235.7 568.0,236.9 570.0,239.0C572.0,241.1 577.9,243.9 580.0,250.0C582.1,256.1 584.2,275.8 585.0,282.5C585.8,289.2 585.7,288.6 586.0,298.0C586.3,307.4 586.9,324.9 587.0,350.0C587.1,375.1 587.0,459.2 587.0,477.0"/>
</g>
<path d="M526.5,149 L542.5,127 L560,149Z" fill="rgb(255,136,87)"/>
<path d="M471.0,39.0 L688.5,39.0 L688.5,127.5 L672.0,147.5 L632.0,147.5 L616.0,128.0 L600.0,147.5 L559.0,147.5 L542.5,128.0 L527.5,147.5 L489.0,147.5 L452.0,104.0 L452.0,61.0Z" fill="rgb(255,102,52)" stroke="rgb(255,102,52)" stroke-width="1.5" stroke-linejoin="round"/>
<g transform="translate(131.2,230.0) rotate(67)"><rect x="-13.0" y="-2" width="26" height="4" fill="rgb(255,111,61)"/><text transform="scale(0.75,1)" x="0" y="5" text-anchor="middle" class="cl">13.00</text></g>
<g transform="translate(201.8,310.5) rotate(79)"><rect x="-13.0" y="-2" width="26" height="4" fill="rgb(255,111,61)"/><text transform="scale(0.75,1)" x="0" y="5" text-anchor="middle" class="cl">13.00</text></g>
<g transform="translate(199.2,405.8) rotate(90)"><rect x="-13.0" y="-2" width="26" height="4" fill="rgb(255,111,61)"/><text transform="scale(0.75,1)" x="0" y="5" text-anchor="middle" class="cl">13.00</text></g>
<g transform="translate(312.0,417.5) rotate(-22)"><rect x="-10.5" y="-2" width="21" height="4" fill="rgb(255,160,112)"/><text transform="scale(0.75,1)" x="0" y="5" text-anchor="middle" class="cl">7.00</text></g>
<g transform="translate(369.5,354.5) rotate(-45)"><rect x="-10.5" y="-2" width="21" height="4" fill="rgb(255,160,112)"/><text transform="scale(0.75,1)" x="0" y="5" text-anchor="middle" class="cl">7.00</text></g>
<g transform="translate(430.1,280.6) rotate(-65)"><rect x="-10.5" y="-2" width="21" height="4" fill="rgb(255,160,112)"/><text transform="scale(0.75,1)" x="0" y="5" text-anchor="middle" class="cl">7.00</text></g>
<g transform="translate(492.2,268.3) rotate(55)"><rect x="-10.5" y="-2" width="21" height="4" fill="rgb(255,160,112)"/><text transform="scale(0.75,1)" x="0" y="5" text-anchor="middle" class="cl">7.00</text></g>
<g transform="translate(391.2,395.0) rotate(-55)"><rect x="-10.5" y="-2" width="21" height="4" fill="rgb(255,193,146)"/><text transform="scale(0.75,1)" x="0" y="5" text-anchor="middle" class="cl">3.00</text></g>
<g transform="translate(447.5,322.5) rotate(-62)"><rect x="-10.5" y="-2" width="21" height="4" fill="rgb(255,193,146)"/><text transform="scale(0.75,1)" x="0" y="5" text-anchor="middle" class="cl">3.00</text></g>
<g transform="translate(477.0,355.0) rotate(-84)"><rect x="-10.5" y="-2" width="21" height="4" fill="rgb(255,193,146)"/><text transform="scale(0.75,1)" x="0" y="5" text-anchor="middle" class="cl">3.00</text></g>
<g transform="translate(505.5,354.5) rotate(-85)"><rect x="-10.5" y="-2" width="21" height="4" fill="rgb(255,160,112)"/><text transform="scale(0.75,1)" x="0" y="5" text-anchor="middle" class="cl">7.00</text></g>
<g transform="translate(554.5,329.5) rotate(-90)"><rect x="-13.0" y="-2" width="26" height="4" fill="rgb(255,111,61)"/><text transform="scale(0.75,1)" x="0" y="5" text-anchor="middle" class="cl">13.00</text></g>
<g transform="translate(587.0,361.0) rotate(-90)"><rect x="-13.0" y="-2" width="26" height="4" fill="rgb(255,111,61)"/><text transform="scale(0.75,1)" x="0" y="5" text-anchor="middle" class="cl">13.00</text></g>
<g transform="translate(582.5,265.0) rotate(80)"><rect x="-13.0" y="-2" width="26" height="4" fill="rgb(255,111,61)"/><text transform="scale(0.75,1)" x="0" y="5" text-anchor="middle" class="cl">13.00</text></g>
<g transform="translate(474.2,442.5) rotate(90)"><rect x="-10.5" y="-2" width="21" height="4" fill="rgb(255,193,146)"/><text transform="scale(0.75,1)" x="0" y="5" text-anchor="middle" class="cl">3.00</text></g>
<g transform="translate(503.0,442.5) rotate(90)"><rect x="-10.5" y="-2" width="21" height="4" fill="rgb(255,160,112)"/><text transform="scale(0.75,1)" x="0" y="5" text-anchor="middle" class="cl">7.00</text></g>
<g transform="translate(555.5,440.0) rotate(90)"><rect x="-13.0" y="-2" width="26" height="4" fill="rgb(255,111,61)"/><text transform="scale(0.75,1)" x="0" y="5" text-anchor="middle" class="cl">13.00</text></g>
</g>
<rect x="107.5" y="39.5" width="581.0" height="437.9" fill="none" stroke="#2a1208" stroke-width="1.2"/>
<g stroke="#333" stroke-width="0.9">
<line x1="127.4" y1="477.4" x2="127.4" y2="480.4"/>
<line x1="128.4" y1="39.5" x2="128.4" y2="37.0"/>
<line x1="204.1" y1="477.4" x2="204.1" y2="480.4"/>
<line x1="205.1" y1="39.5" x2="205.1" y2="37.0"/>
<line x1="280.9" y1="477.4" x2="280.9" y2="480.4"/>
<line x1="281.9" y1="39.5" x2="281.9" y2="37.0"/>
<line x1="357.6" y1="477.4" x2="357.6" y2="480.4"/>
<line x1="358.6" y1="39.5" x2="358.6" y2="37.0"/>
<line x1="434.4" y1="477.4" x2="434.4" y2="480.4"/>
<line x1="435.4" y1="39.5" x2="435.4" y2="37.0"/>
<line x1="511.1" y1="477.4" x2="511.1" y2="480.4"/>
<line x1="512.1" y1="39.5" x2="512.1" y2="37.0"/>
<line x1="587.8" y1="477.4" x2="587.8" y2="480.4"/>
<line x1="588.8" y1="39.5" x2="588.8" y2="37.0"/>
<line x1="664.6" y1="477.4" x2="664.6" y2="480.4"/>
<line x1="665.6" y1="39.5" x2="665.6" y2="37.0"/>
<line x1="104.0" y1="61.5" x2="107.5" y2="61.5"/>
<line x1="688.5" y1="61.5" x2="691.0" y2="61.5"/>
<line x1="104.0" y1="105.7" x2="107.5" y2="105.7"/>
<line x1="688.5" y1="105.7" x2="691.0" y2="105.7"/>
<line x1="104.0" y1="149.9" x2="107.5" y2="149.9"/>
<line x1="688.5" y1="149.9" x2="691.0" y2="149.9"/>
<line x1="104.0" y1="194.1" x2="107.5" y2="194.1"/>
<line x1="688.5" y1="194.1" x2="691.0" y2="194.1"/>
<line x1="104.0" y1="238.3" x2="107.5" y2="238.3"/>
<line x1="688.5" y1="238.3" x2="691.0" y2="238.3"/>
<line x1="104.0" y1="282.5" x2="107.5" y2="282.5"/>
<line x1="688.5" y1="282.5" x2="691.0" y2="282.5"/>
<line x1="104.0" y1="326.7" x2="107.5" y2="326.7"/>
<line x1="688.5" y1="326.7" x2="691.0" y2="326.7"/>
<line x1="104.0" y1="370.9" x2="107.5" y2="370.9"/>
<line x1="688.5" y1="370.9" x2="691.0" y2="370.9"/>
<line x1="104.0" y1="415.1" x2="107.5" y2="415.1"/>
<line x1="688.5" y1="415.1" x2="691.0" y2="415.1"/>
<line x1="104.0" y1="459.3" x2="107.5" y2="459.3"/>
<line x1="688.5" y1="459.3" x2="691.0" y2="459.3"/>
</g>
<text x="127.4" y="489.3" text-anchor="middle" class="tk">40.00</text>
<text x="204.1" y="489.3" text-anchor="middle" class="tk">41.00</text>
<text x="280.9" y="489.3" text-anchor="middle" class="tk">42.00</text>
<text x="357.6" y="489.3" text-anchor="middle" class="tk">43.00</text>
<text x="434.4" y="489.3" text-anchor="middle" class="tk">44.00</text>
<text x="511.1" y="489.3" text-anchor="middle" class="tk">45.00</text>
<text x="587.8" y="489.3" text-anchor="middle" class="tk">46.00</text>
<text x="664.6" y="489.3" text-anchor="middle" class="tk">47.00</text>
<text x="104.6" y="65.0" text-anchor="end" class="tk">47.00</text>
<text x="104.6" y="109.2" text-anchor="end" class="tk">46.50</text>
<text x="104.6" y="153.4" text-anchor="end" class="tk">46.00</text>
<text x="104.6" y="197.6" text-anchor="end" class="tk">45.50</text>
<text x="104.6" y="241.8" text-anchor="end" class="tk">45.00</text>
<text x="104.6" y="286.0" text-anchor="end" class="tk">44.50</text>
<text x="104.6" y="330.2" text-anchor="end" class="tk">44.00</text>
<text x="104.6" y="374.4" text-anchor="end" class="tk">43.50</text>
<text x="104.6" y="418.6" text-anchor="end" class="tk">43.00</text>
<text x="104.6" y="462.8" text-anchor="end" class="tk">42.50</text>
<!-- station markers -->
<g stroke="#2a1208" stroke-width="1.1">
<line x1="114.2" y1="32" x2="114.2" y2="47"/>
<line x1="100" y1="375.7" x2="116.5" y2="375.7"/>
<line x1="680.5" y1="451" x2="697" y2="451"/>
<line x1="370" y1="470" x2="370" y2="481.5"/>
<line x1="277" y1="312.5" x2="291" y2="312.5"/><line x1="284" y1="305.5" x2="284" y2="319.5"/>
<line x1="253.5" y1="375.7" x2="269" y2="375.7"/><line x1="261.2" y1="368" x2="261.2" y2="383"/>
</g>
<text x="73.9" y="27" class="st" style="letter-spacing:1.72px">Стопная</text>
<text x="225.8" y="298.6" class="st" style="letter-spacing:2.04px">Предгорная</text>
<text x="226" y="361.8" class="st" style="letter-spacing:2.33px">Горная</text>
<text x="82" y="361.8" class="st" style="letter-spacing:2.61px">Сочи</text>
<text x="333.2" y="463.6" class="st" style="letter-spacing:1.52px">Терскол</text>
<text x="634.2" y="439" class="st" style="letter-spacing:2.1px">Прикаспий</text>
<text x="570" y="80" class="st" style="font-size:17px;letter-spacing:2.6px">ГОД</text>
<text x="391.7" y="517" class="st" style="letter-spacing:0;font-size:16.5px">E</text>
<text transform="translate(59.2,263.5) scale(1.27,0.96) rotate(-90)" x="0" y="0" class="st" style="letter-spacing:0">N</text>
<g fill="#e4e4e4">
<rect x="242" y="524.2" width="9" height="1.6"/><rect x="266" y="524.2" width="9" height="1.6"/><rect x="290" y="524.2" width="9" height="1.6"/><rect x="315" y="524.2" width="9" height="1.6"/><rect x="340" y="524.2" width="9" height="1.6"/>
</g>
<rect x="165.70" y="591.3" width="35.85" height="26.5" fill="rgb(255,103,53)" stroke="#1a0a05" stroke-width="1.6"/>
<rect x="201.55" y="591.3" width="35.85" height="26.5" fill="rgb(255,111,61)" stroke="#1a0a05" stroke-width="1.6"/>
<rect x="237.39" y="591.3" width="35.85" height="26.5" fill="rgb(255,119,70)" stroke="#1a0a05" stroke-width="1.6"/>
<rect x="273.24" y="591.3" width="35.85" height="26.5" fill="rgb(255,128,78)" stroke="#1a0a05" stroke-width="1.6"/>
<rect x="309.08" y="591.3" width="35.85" height="26.5" fill="rgb(255,136,87)" stroke="#1a0a05" stroke-width="1.6"/>
<rect x="344.93" y="591.3" width="35.85" height="26.5" fill="rgb(255,144,95)" stroke="#1a0a05" stroke-width="1.6"/>
<rect x="380.78" y="591.3" width="35.85" height="26.5" fill="rgb(255,152,104)" stroke="#1a0a05" stroke-width="1.6"/>
<rect x="416.62" y="591.3" width="35.85" height="26.5" fill="rgb(255,160,112)" stroke="#1a0a05" stroke-width="1.6"/>
<rect x="452.47" y="591.3" width="35.85" height="26.5" fill="rgb(255,168,120)" stroke="#1a0a05" stroke-width="1.6"/>
<rect x="488.32" y="591.3" width="35.85" height="26.5" fill="rgb(255,176,129)" stroke="#1a0a05" stroke-width="1.6"/>
<rect x="524.16" y="591.3" width="35.85" height="26.5" fill="rgb(255,185,137)" stroke="#1a0a05" stroke-width="1.6"/>
<rect x="560.01" y="591.3" width="35.85" height="26.5" fill="rgb(255,193,146)" stroke="#1a0a05" stroke-width="1.6"/>
<rect x="595.85" y="591.3" width="35.85" height="26.5" fill="rgb(255,201,154)" stroke="#1a0a05" stroke-width="1.6"/>
<text transform="translate(201.7,583.6) rotate(-90) scale(0.816,1)" x="0" y="11.1" class="lg">14.0</text>
<text transform="translate(237.4,583.6) rotate(-90) scale(0.816,1)" x="0" y="11.1" class="lg">13.0</text>
<text transform="translate(273.1,583.6) rotate(-90) scale(0.816,1)" x="0" y="11.1" class="lg">12.0</text>
<text transform="translate(308.8,583.6) rotate(-90) scale(0.816,1)" x="0" y="11.1" class="lg">11.0</text>
<text transform="translate(344.5,583.6) rotate(-90) scale(0.816,1)" x="0" y="11.1" class="lg">10.0</text>
<text transform="translate(380.2,583.6) rotate(-90) scale(0.816,1)" x="0" y="11.1" class="lg">9.0</text>
<text transform="translate(415.9,583.6) rotate(-90) scale(0.816,1)" x="0" y="11.1" class="lg">8.0</text>
<text transform="translate(451.6,583.6) rotate(-90) scale(0.816,1)" x="0" y="11.1" class="lg">7.0</text>
<text transform="translate(487.3,583.6) rotate(-90) scale(0.816,1)" x="0" y="11.1" class="lg">6.0</text>
<text transform="translate(523.0,583.6) rotate(-90) scale(0.816,1)" x="0" y="11.1" class="lg">5.0</text>
<text transform="translate(558.7,583.6) rotate(-90) scale(0.816,1)" x="0" y="11.1" class="lg">4.0</text>
<text transform="translate(594.4,583.6) rotate(-90) scale(0.816,1)" x="0" y="11.1" class="lg">3.0</text>
<text transform="translate(630.1,583.6) rotate(-90) scale(0.816,1)" x="0" y="11.1" class="lg">2.0</text>
<text x="119.3" y="610.3" style="font:bold 24px 'Liberation Sans',sans-serif;fill:#0a0a0a;stroke:#0a0a0a;stroke-width:0.5px;letter-spacing:1.6px">°C</text>
</svg>
</body></html>
